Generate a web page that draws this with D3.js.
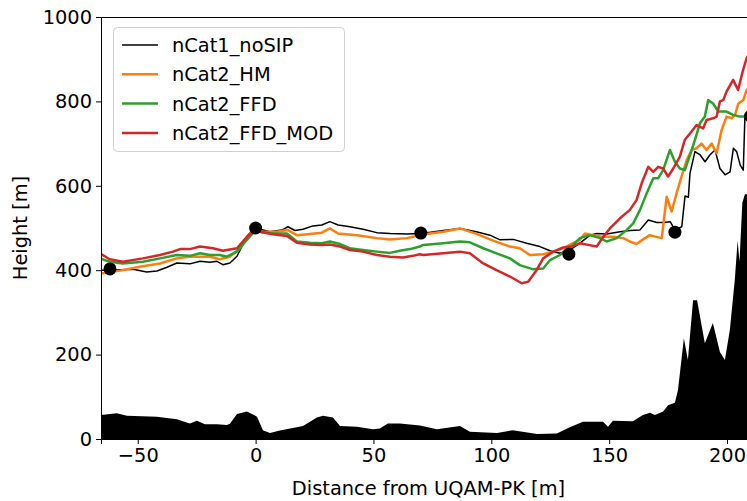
<!DOCTYPE html>
<html>
<head>
<meta charset="utf-8">
<script src="https://cdn.jsdelivr.net/npm/d3@7"></script>
<style>
  body { margin: 0; background: #fff; }
  svg { display: block; font-family: "DejaVu Sans", sans-serif; }
</style>
</head>
<body>
<script>
// series: [distance (m), height (m)]
var noSIP = [[-65.6,400],[-61.9,400],[-52,402],[-46.2,396],[-41.9,398],[-37.6,407],[-33.4,417],[-27.9,415],[-23.6,421],[-19.4,419],[-16.4,421],[-13.9,413],[-10.9,417],[-7.9,433],[-3.7,480],[-1.2,497],[0,500],[0.6,499],[6.1,491],[11.1,495],[13.7,503],[16.7,494],[20.1,497],[24.3,505],[28.1,507],[31.5,515],[35,507],[40,503],[45.6,497],[51.4,489],[57,487],[64.2,486],[70.4,487],[79.6,494],[86.7,499],[93.7,491],[99.4,483],[103.7,472],[109.3,473],[115,464],[120.6,456],[124.9,446],[129.1,440],[133.4,448],[137.6,464],[141.9,483],[144.7,487],[149,486],[154.6,491],[158.9,494],[163,495],[166.6,519],[170.2,513],[173,513],[175.9,515],[177.9,495],[180.8,503],[182.2,576],[183.6,573],[184.3,630],[186.4,681],[188.6,673],[190.7,657],[192.7,673],[194.9,685],[197,641],[199.2,626],[201.3,633],[202.7,689],[204.1,681],[205.6,649],[206.9,637],[207.6,764],[212,764]];

var hm = [[-65.6,392],[-57.6,399],[-49.1,408],[-40.6,416],[-33.4,428],[-27.9,432],[-23.6,432],[-19.4,432],[-15.2,426],[-10.9,432],[-6.7,452],[-2.4,487],[0,497],[1.8,491],[9,491],[13.7,495],[17.5,483],[23,486],[28.1,489],[31.5,499],[35,487],[43,483],[51.4,476],[57,473],[64.2,476],[69.7,483],[74,487],[79.6,491],[86.7,499],[93.7,486],[100.8,470],[107.9,456],[112.1,452],[116.4,436],[122,438],[126.3,444],[130.5,452],[134.7,464],[137.6,472],[139.7,487],[143.2,483],[147.5,479],[151.7,479],[156,476],[158.8,468],[161.6,462],[164.4,473],[167.2,483],[170.1,479],[172.3,476],[174.4,574],[176.5,539],[178.6,582],[180.7,622],[182.9,661],[185,685],[187.1,689],[189.2,700],[191.3,685],[193.5,700],[195.6,677],[197.7,732],[199.8,764],[202,760],[203.4,768],[204.8,795],[206.9,803],[208.3,827],[212,845]];

var ffd = [[-66.1,428],[-61.9,420],[-56.3,416],[-47.8,420],[-40.6,428],[-33.4,436],[-27.9,434],[-23.6,440],[-19.4,436],[-15.2,436],[-12.2,432],[-7.9,444],[-3.7,472],[0,495],[1.8,491],[7.3,487],[13.3,487],[17.5,468],[23,465],[28.1,464],[31.5,468],[35.8,462],[40,452],[45.5,448],[51.5,444],[57,441],[61.2,446],[65.5,450],[69.7,456],[71.1,460],[79.6,464],[86.7,468],[90.9,466],[96.6,452],[102.2,440],[107.9,428],[112.1,412],[117.8,402],[122,404],[124.9,424],[129.1,436],[134.7,460],[137.6,476],[141.8,483],[146.1,476],[148.9,468],[153.2,476],[157.4,495],[160.2,511],[163.1,543],[165.9,582],[168.7,618],[170.8,618],[172.9,637],[175.8,685],[177.9,657],[180,641],[182.1,637],[184.3,673],[186.4,709],[188.5,748],[190.6,764],[192,803],[194.1,795],[196.3,776],[199.8,776],[202.6,768],[205.5,764],[208.3,764],[212,760]];

var ffdMod = [[-66.1,440],[-61.9,426],[-56.3,420],[-47.8,428],[-40.6,436],[-35.1,444],[-32.1,450],[-27.9,450],[-23.6,456],[-18.1,452],[-13.9,446],[-7.9,452],[-3.7,479],[0,495],[1.8,491],[7.3,485],[13.3,481],[17.5,465],[23,461],[28.1,460],[31.5,461],[35.8,456],[40,448],[45.5,444],[51.5,436],[57,432],[62.5,430],[66.7,434],[69.7,438],[71.1,436],[79.6,440],[86.7,444],[90.9,440],[96.6,416],[102.2,400],[107.9,385],[112.9,369],[115.7,373],[119.2,400],[122,428],[126.3,444],[130.5,454],[134.7,457],[137.6,464],[141.1,460],[144.7,456],[147.5,479],[150.3,499],[154.6,523],[158.8,543],[161.6,566],[163.8,606],[166.6,645],[168.7,633],[170.8,645],[172.9,641],[175,622],[177.2,641],[180,669],[182.1,709],[184.3,724],[187.1,744],[189.9,736],[191.3,756],[194.1,760],[195.6,764],[197,800],[198.4,803],[199.8,823],[202.6,851],[204.7,827],[206.8,874],[208.3,902],[212,940]];

var terrain = [[-65.6,57],[-58.9,61],[-54.6,55],[-41.9,53],[-33.4,47],[-27.9,37],[-24.9,43],[-21.5,35],[-16.4,35],[-12.2,33],[-10.9,36],[-7.9,59],[-3.7,65],[0.6,53],[3.1,21],[6.1,14],[10.3,20],[20.1,31],[26,51],[28.6,55],[32.8,51],[35.8,31],[43,29],[49.8,23],[52.7,25],[56.1,37],[61.2,37],[69.7,32],[76.9,23],[86.7,31],[90.9,17],[102.4,14],[109.1,21],[119.4,12],[127.8,13],[133.3,28],[138.9,41],[147.4,41],[149.5,29],[151.6,43],[160.1,42],[164.3,57],[167.3,62],[169.4,57],[172.9,65],[175,80],[177.9,86],[179.2,116],[181.7,239],[183.4,187],[185.6,329],[187.3,329],[190.6,227],[194,275],[197,206],[199.1,187],[201.2,258],[203.3,377],[204.5,470],[205.3,420],[206.5,560],[207.6,580],[212,580]];

var stations = [[-61.8,403],[0,500],[70.1,488],[132.9,438],[177.9,490],[210,765]];

var seriesNames = ["nCat1_noSIP", "nCat2_HM", "nCat2_FFD", "nCat2_FFD_MOD"];
var seriesColors = ["#000000", "#ff7f0e", "#2ca02c", "#d62728"];
var seriesWidths = [1.5, 2.5, 2.5, 2.5];
var xTicks = [-50, 0, 50, 100, 150, 200];
var yTicks = [0, 200, 400, 600, 800, 1000];

var w = 747, h = 501;
var pLeft = 101, pRight = 756, pTop = 17, pBottom = 439;
var fs = "19.4px";

var svg = d3.select("body").append("svg")
    .attr("width", w)
    .attr("height", h);

var x = d3.scaleLinear().domain([-65.6, 212.3]).range([pLeft, pRight]);
var y = d3.scaleLinear().domain([0, 1000]).range([pBottom, pTop]);

svg.append("clipPath").attr("id", "plot")
  .append("rect")
    .attr("x", pLeft).attr("y", pTop)
    .attr("width", pRight - pLeft).attr("height", pBottom - pTop);

var plot = svg.append("g").attr("clip-path", "url(#plot)");

plot.append("path")
    .datum(terrain)
    .attr("fill", "#000")
    .attr("d", d3.area()
      .x(function(d) { return x(d[0]); })
      .y0(y(0))
      .y1(function(d) { return y(d[1]); }));

var line = d3.line()
    .x(function(d) { return x(d[0]); })
    .y(function(d) { return y(d[1]); });

[noSIP, hm, ffd, ffdMod].forEach(function(s, i) {
  plot.append("path")
      .datum(s)
      .attr("fill", "none")
      .attr("stroke", seriesColors[i])
      .attr("stroke-width", seriesWidths[i])
      .attr("stroke-linejoin", "round")
      .attr("d", line);
});

plot.selectAll("circle")
  .data(stations)
  .enter()
  .append("circle")
  .attr("cx", function(d) { return x(d[0]); })
  .attr("cy", function(d) { return y(d[1]); })
  .attr("r", 6.5)
  .attr("fill", "#000");

// axes
var fmt = d3.format("d");
var xAxis = svg.append("g")
    .attr("transform", "translate(0," + pBottom + ")")
    .call(d3.axisBottom(x).tickValues(xTicks).tickFormat(fmt).tickSize(5).tickPadding(4));
var yAxis = svg.append("g")
    .attr("transform", "translate(" + pLeft + ",0)")
    .call(d3.axisLeft(y).tickValues(yTicks).tickFormat(fmt).tickSize(5).tickPadding(4));

[xAxis, yAxis].forEach(function(a) {
  a.selectAll("text").attr("font-size", fs).attr("font-family", "DejaVu Sans").attr("fill", "#000");
  a.selectAll("line").attr("stroke", "#000").attr("stroke-width", 1);
  a.select(".domain").attr("stroke", "#000").attr("stroke-width", 1);
});

svg.append("line")
    .attr("x1", pLeft).attr("x2", pRight)
    .attr("y1", pTop + 0.5).attr("y2", pTop + 0.5)
    .attr("stroke", "#000");

svg.append("text")
    .text("Distance from UQAM-PK [m]")
    .attr("x", (pLeft + pRight) / 2)
    .attr("y", 495)
    .attr("text-anchor", "middle")
    .attr("font-size", fs);

svg.append("text")
    .text("Height [m]")
    .attr("transform", "translate(27," + ((pTop + pBottom) / 2) + ") rotate(-90)")
    .attr("text-anchor", "middle")
    .attr("font-size", fs);

// legend
var legend = svg.append("g");
legend.append("rect")
    .attr("x", 113.5).attr("y", 27.5)
    .attr("width", 231).attr("height", 124)
    .attr("rx", 4)
    .attr("fill", "#fff")
    .attr("fill-opacity", 0.8)
    .attr("stroke", "#d0d0d0");

seriesNames.forEach(function(name, i) {
  var ly = 45 + i * 29.3;
  legend.append("line")
      .attr("x1", 122).attr("x2", 158)
      .attr("y1", ly).attr("y2", ly)
      .attr("stroke", seriesColors[i])
      .attr("stroke-width", seriesWidths[i]);
  legend.append("text")
      .text(name)
      .attr("x", 172)
      .attr("y", ly + 7)
      .attr("font-size", fs);
});
</script>
</body>
</html>
